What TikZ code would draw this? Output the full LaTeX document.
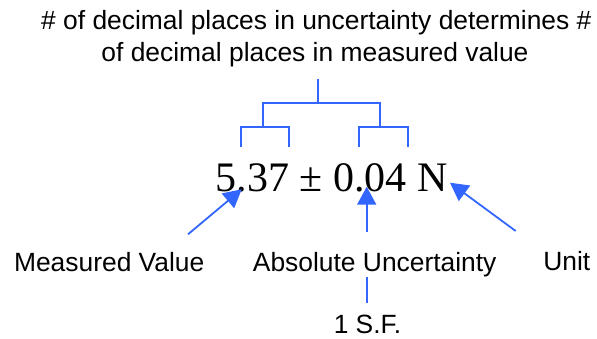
\documentclass[tikz,border=0pt]{standalone}
\usepackage{fontspec}
\setmainfont{Liberation Sans}
\newfontfamily\serifface{Liberation Serif}
\usetikzlibrary{arrows.meta}
\definecolor{linkblue}{RGB}{51,102,255}
\tikzset{
  lbl/.style={anchor=base, inner sep=0pt, font=\fontsize{26.4}{32}\selectfont},
  formula/.style={anchor=base, inner sep=0pt, font=\serifface\fontsize{42}{48}\selectfont},
  brk/.style={draw=linkblue, line width=1.8pt},
  pointer/.style={draw=linkblue, line width=1.8pt, -{Triangle[length=18pt,width=19pt]}},
  plainline/.style={draw=linkblue, line width=1.8pt}
}
\begin{document}
\begin{tikzpicture}[x=1pt,y=-1pt]
\useasboundingbox (0,0) rectangle (597,338);
% texts
\node[lbl] (title1) at (316.3,29.3) {\# of decimal places in uncertainty determines \#};
\node[lbl] (title2) at (315,61.7) {of decimal places in measured value};
\node[formula] (value) at (331.7,191.7) {5.37 \char"00B1{} 0.04 N};
\node[lbl] (mv) at (109.2,271.5) {Measured Value};
\node[lbl] (abs) at (374.7,271.5) {Absolute Uncertainty};
\node[lbl] (unit) at (566.8,270.5) {Unit};
\node[lbl, text depth=0pt] (sf) at (367.5,333.5) {1 S.F.};
% bracket
\coordinate (btop) at (317.7,79);
\coordinate (bmid) at (317.7,103);
\coordinate (bl) at (263.3,103);
\coordinate (br) at (380.3,103);
\draw[brk] (btop) -- (bmid);
\draw[brk] (263.3,127) -- (bl) -- (br) -- (380.3,127);
\draw[brk] (241,147) -- (241,127) -- (289.3,127) -- (289.3,147);
\draw[brk] (359.3,147) -- (359.3,127) -- (407.7,127) -- (407.7,147);
% arrows
\coordinate (mvtail) at (188,234.3);
\coordinate (mvtip) at (241.7,189.3);
\coordinate (abstail) at (366.7,231.7);
\coordinate (abstip) at (366.7,186.7);
\coordinate (unittail) at (515.7,231);
\coordinate (unittip) at (450,182.7);
\coordinate (sftop) at (366.7,277.3);
\coordinate (sfbot) at (366.7,303);
\draw[pointer] (mvtail) -- (mvtip);
\draw[pointer] (abstail) -- (abstip);
\draw[pointer] (unittail) -- (unittip);
\draw[plainline] (sftop) -- (sfbot);
\end{tikzpicture}
\end{document}
